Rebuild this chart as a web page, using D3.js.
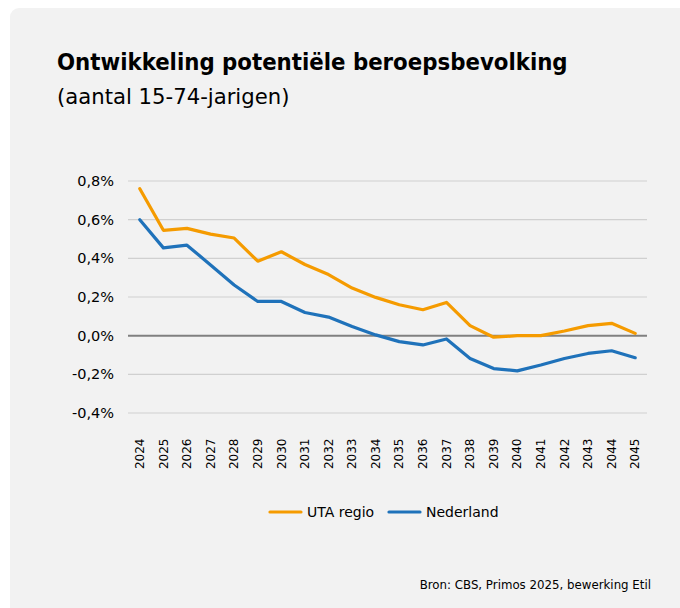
<!DOCTYPE html>
<html><head><meta charset="utf-8">
<script src="https://cdn.jsdelivr.net/npm/d3@7"></script>
<style>body{margin:0;background:#fff;}svg{display:block;}</style>
</head><body>
<svg id="c" width="680" height="608"></svg>
<script>
const years = ["2024","2025","2026","2027","2028","2029","2030","2031","2032","2033","2034","2035","2036","2037","2038","2039","2040","2041","2042","2043","2044","2045"];
const utaRegio = [0.76,0.545,0.555,0.525,0.505,0.385,0.434,0.368,0.316,0.246,0.198,0.16,0.134,0.172,0.052,-0.008,0.0,0.0,0.024,0.052,0.064,0.012];
const nederland = [0.60,0.454,0.468,0.366,0.262,0.177,0.177,0.12,0.096,0.047,0.004,-0.031,-0.048,-0.017,-0.118,-0.17,-0.182,-0.152,-0.118,-0.092,-0.078,-0.114];
const yTicks = [-0.4,-0.2,0,0.2,0.4,0.6,0.8];
const seriesNames = ["UTA regio","Nederland"];
const colors = ["#F59B00","#1F72BA"];
const FONT = "'DejaVu Sans', sans-serif";
const FONT_C = "'DejaVu Sans Condensed', 'DejaVu Sans', sans-serif";

const svg = d3.select("#c");
svg.append("rect").attr("x",10).attr("y",8).attr("width",700).attr("height",640).attr("rx",9).attr("fill","#F2F2F2");

svg.append("text").attr("x",57).attr("y",70).attr("font-family",FONT_C).attr("font-weight","bold")
  .attr("font-size",23.7).attr("fill","#000").text("Ontwikkeling potentiële beroepsbevolking");
svg.append("text").attr("x",57).attr("y",104).attr("font-family",FONT)
  .attr("font-size",21.2).attr("fill","#000").text("(aantal 15-74-jarigen)");

const pLeft=128, pRight=647, pTop=181, pBottom=413;
const x = d3.scaleBand().domain(years).range([pLeft,pRight]);
const y = d3.scaleLinear().domain([-0.4,0.8]).range([pBottom,pTop]);

const g = svg.append("g");
g.selectAll("line.grid").data(yTicks.filter(d=>d!==0)).join("line")
  .attr("x1",pLeft).attr("x2",pRight).attr("y1",d=>y(d)).attr("y2",d=>y(d))
  .attr("stroke","#D0D0D0").attr("stroke-width",1.2);

const yAxis = d3.axisLeft(y).tickValues(yTicks).tickSize(0).tickPadding(0)
  .tickFormat(d=>d3.format(".1f")(d).replace(".",",").replace("−","-").replace("-0,0","0,0")+"%");
const ya = svg.append("g").attr("transform",`translate(114,0)`).call(yAxis);
ya.select(".domain").remove();
ya.selectAll("text").attr("font-family",FONT).attr("font-size",14.5).attr("fill","#000");

const xAxis = d3.axisBottom(x).tickSize(0).tickPadding(0);
const xa = svg.append("g").attr("transform",`translate(0,438.5)`).call(xAxis);
xa.select(".domain").remove();
xa.selectAll("text").attr("font-family",FONT).attr("font-size",12).attr("fill","#000")
  .attr("transform","rotate(-90)").attr("text-anchor","end").attr("x",0).attr("y",0).attr("dy","0.35em");

g.append("line").attr("x1",pLeft).attr("x2",pRight).attr("y1",y(0)).attr("y2",y(0))
  .attr("stroke","#808080").attr("stroke-width",2);

const line = d3.line().x((d,i)=>x(years[i])+x.bandwidth()/2).y(d=>y(d));
[utaRegio,nederland].forEach((s,i)=>{
  g.append("path").datum(s).attr("d",line).attr("fill","none").attr("stroke",colors[i])
    .attr("stroke-width",3.2).attr("stroke-linejoin","round").attr("stroke-linecap","round");
});

const legendX = [270,389];
seriesNames.forEach((n,i)=>{
  svg.append("line").attr("x1",legendX[i]).attr("x2",legendX[i]+31).attr("y1",512).attr("y2",512)
    .attr("stroke",colors[i]).attr("stroke-width",3.2).attr("stroke-linecap","round");
  svg.append("text").attr("x",legendX[i]+37).attr("y",517).attr("font-family",FONT)
    .attr("font-size",14).attr("fill","#000").text(n);
});

svg.append("text").attr("x",651).attr("y",589).attr("text-anchor","end").attr("font-family",FONT)
  .attr("font-size",11.8).attr("fill","#000").text("Bron: CBS, Primos 2025, bewerking Etil");
</script>
</body></html>
